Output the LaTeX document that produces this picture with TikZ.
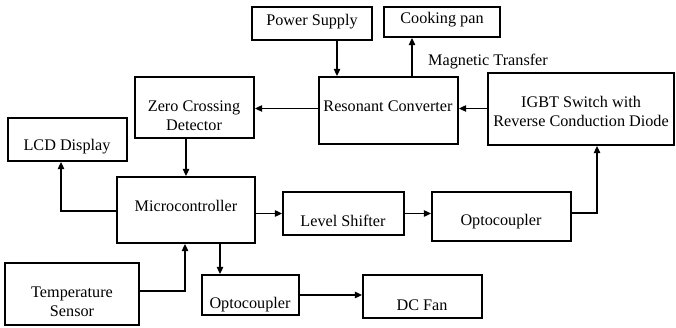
\documentclass[tikz,border=0pt]{standalone}
\usepackage{fontspec}
\setmainfont{Liberation Serif}
\usetikzlibrary{arrows.meta}
\begin{document}
\begin{tikzpicture}[x=1pt,y=-1pt,
  box/.style={draw,line width=2.2pt,inner sep=0pt},
  lbl/.style={inner sep=0pt,align=center,font=\fontsize{16.2}{19}\selectfont},
  arr/.style={line width=1.1pt,-{Triangle[length=7pt,width=6.5pt]}},
  ln/.style={line width=1.1pt}]
\useasboundingbox (0,0) rectangle (676,328);
% boxes
\node[box,minimum width=120pt,minimum height=33pt] (ps) at (312,23.5) {};
\node[box,minimum width=116pt,minimum height=30pt] (cp) at (442,22) {};
\node[box,minimum width=139pt,minimum height=67pt] (rc) at (388.5,110.5) {};
\node[box,minimum width=186pt,minimum height=72pt] (igbt) at (581,109) {};
\node[box,minimum width=119pt,minimum height=61pt] (zcd) at (194.5,107.5) {};
\node[box,minimum width=119pt,minimum height=43pt] (lcd) at (67.5,139.5) {};
\node[box,minimum width=138pt,minimum height=66pt] (mc) at (186,210) {};
\node[box,minimum width=121pt,minimum height=43pt] (ls) at (343.5,213.5) {};
\node[box,minimum width=139pt,minimum height=49pt] (oc1) at (501.5,216.5) {};
\node[box,minimum width=134pt,minimum height=62pt] (ts) at (72,294) {};
\node[box,minimum width=97pt,minimum height=40pt] (oc2) at (250.5,295) {};
\node[box,minimum width=119pt,minimum height=43pt] (fan) at (422.5,296.5) {};
% texts
\node[lbl] (tps) at (312,22) {Power Supply};
\node[lbl] (tcp) at (442,20) {Cooking pan};
\node[lbl] (trc) at (388,106) {Resonant Converter};
\node[lbl] (tigbt) at (581,111) {IGBT Switch with\\Reverse Conduction Diode};
\node[lbl] (tzcd) at (194,115.5) {Zero Crossing\\Detector};
\node[lbl] (tlcd) at (67,147) {LCD Display};
\node[lbl] (tmc) at (186,206) {Microcontroller};
\node[lbl] (tls) at (343,221) {Level Shifter};
\node[lbl] (toc1) at (501,222) {Optocoupler};
\node[lbl] (tts) at (72,301.5) {Temperature\\Sensor};
\node[lbl] (toc2) at (250,305) {Optocoupler};
\node[lbl] (tfan) at (422,305) {DC Fan};
\node[lbl] (mt) at (488,62) {Magnetic Transfer};
% connectors
\draw[arr] ([xshift=25pt]ps.south) -- ([xshift=25pt]ps.south |- rc.north);
\draw[arr] ([xshift=23.5pt]rc.north) -- ([xshift=23.5pt]rc.north |- cp.south);
\draw[arr] ([yshift=2pt]igbt.west |- rc.east) -- ([yshift=2pt]rc.east);
\draw[arr] ([yshift=2pt]rc.west) -- ([yshift=2pt]rc.west -| zcd.east);
\draw[arr] (zcd.south -| mc.north) -- (mc.north);
\draw[arr] ([yshift=-1pt]mc.west) -| ([xshift=-6.5pt]lcd.south);
\draw[arr] (mc.east |- ls.west) -- (ls.west);
\draw[arr] (ls.east) -- (ls.east -| oc1.west);
\draw[arr] ([yshift=3.5pt]oc1.east) -| ([xshift=16pt]igbt.south);
\draw[arr] ([yshift=3pt]ts.east) -| ([xshift=-1pt]mc.south);
\draw[arr] ([xshift=34pt]mc.south) -- ([xshift=34pt]mc.south |- oc2.north);
\draw[arr] (oc2.east) -- (oc2.east -| fan.west);
\end{tikzpicture}
\end{document}
